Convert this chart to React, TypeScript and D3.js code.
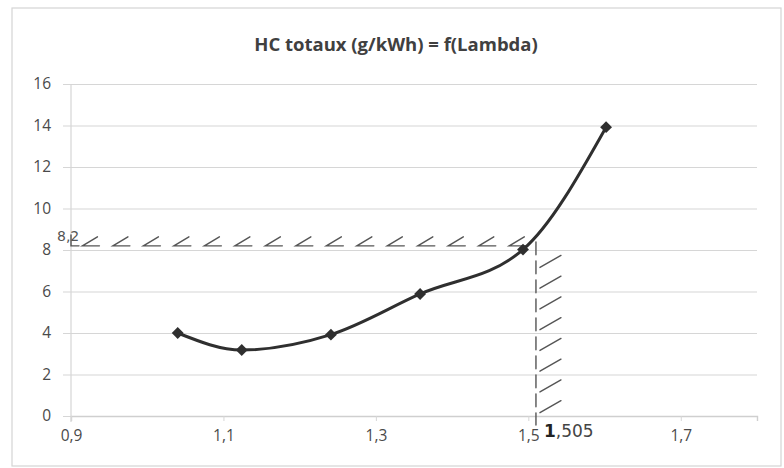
import { useEffect, useRef } from "react";
import * as d3 from "d3";

// HC totaux vs Lambda
const lambda = [1.04, 1.124, 1.241, 1.358, 1.493, 1.602];
const hcTotal = [4.0, 3.18, 3.92, 5.88, 8.02, 13.92];
const xTicks = [0.9, 1.1, 1.3, 1.5, 1.7];
const yTicks = [0, 2, 4, 6, 8, 10, 12, 14, 16];

// handwritten limits drawn on the printout
const hcLimit = 8.2;
const lambdaLimit = 1.51;
const hcLimitLabel = "8,2";
const lambdaLimitLabel = ",505";

const W = 784;
const H = 468;

const App = () => {
  const ref = useRef<SVGSVGElement>(null);

  useEffect(() => {
    const svg = d3.select(ref.current);
    svg.selectAll("*").remove();

    const x = d3.scaleLinear().domain([0.9, 1.8]).range([71, 757]);
    const y = d3.scaleLinear().domain([0, 16]).range([416, 84]);
    const fmt = (v: number) => String(v).replace(".", ",");

    svg.append("rect").attr("width", W).attr("height", H).attr("fill", "#fff");

    // chart frame
    svg
      .append("rect")
      .attr("x", 12)
      .attr("y", 8)
      .attr("width", 769)
      .attr("height", 458)
      .attr("fill", "none")
      .attr("stroke", "#d4d4d4")
      .attr("stroke-width", 1.2);

    svg
      .append("text")
      .attr("x", 396)
      .attr("y", 51)
      .attr("text-anchor", "middle")
      .style("font-family", "Open Sans, sans-serif")
      .style("font-weight", "bold")
      .style("font-size", "18.5px")
      .attr("fill", "#404040")
      .text("HC totaux (g/kWh) = f(Lambda)");

    // y gridlines + labels
    const yAxis = svg
      .append("g")
      .attr("transform", `translate(${x(0.9)},0)`)
      .call(
        d3
          .axisLeft(y)
          .tickValues(yTicks)
          .tickSize(-(x(1.8) - x(0.9)))
          .tickPadding(20)
          .tickFormat((d) => fmt(d as number))
      );
    yAxis.select(".domain").remove();
    yAxis.selectAll(".tick line").attr("stroke", "#d6d6d6").attr("x1", -8).attr("stroke-width", 1.2);
    yAxis
      .selectAll(".tick text")
      .attr("fill", "#4a4a4a")
      .style("font-family", "Open Sans, sans-serif")
      .style("font-size", "15.5px");

    // vertical axis line
    svg
      .append("line")
      .attr("x1", x(0.9))
      .attr("x2", x(0.9))
      .attr("y1", y(16))
      .attr("y2", y(0) + 6)
      .attr("stroke", "#d6d6d6")
      .attr("stroke-width", 1.2);

    // x axis
    const xAxis = svg
      .append("g")
      .attr("transform", `translate(0,${y(0)})`)
      .call(
        d3
          .axisBottom(x)
          .tickValues(xTicks)
          .tickSize(5)
          .tickPadding(9)
          .tickFormat((d) => fmt(d as number))
      );
    xAxis.select(".domain").attr("stroke", "#cfcfcf").attr("stroke-width", 1.4);
    xAxis.selectAll(".tick line").attr("stroke", "#d6d6d6");
    xAxis
      .selectAll(".tick text")
      .attr("fill", "#4a4a4a")
      .style("font-family", "Open Sans, sans-serif")
      .style("font-size", "15.5px");

    // pencil annotations
    const pencil = svg.append("g").attr("stroke", "#555").attr("fill", "none").attr("stroke-width", 1.4).attr("stroke-linecap", "round");
    const y0 = y(hcLimit);
    pencil
      .append("path")
      .attr("d", `M${x(0.9)},${y0 - 11} L${x(0.9)},${y0} L${x(0.9) + 8},${y0}`);
    d3.range(0.915, lambdaLimit - 0.02, 0.04).forEach((v) => {
      const px = x(v);
      pencil
        .append("path")
        .attr("d", `M${px + 15},${y0 - 9} L${px},${y0} L${px + 17},${y0}`);
    });

    const xv = x(lambdaLimit);
    pencil
      .append("line")
      .attr("x1", xv)
      .attr("x2", xv)
      .attr("y1", y0 - 4)
      .attr("y2", y(0) + 9)
      .attr("stroke-dasharray", "13 6");
    d3.range(0.4, hcLimit + 0.2, 1.0).forEach((v) => {
      const py = y(v);
      pencil
        .append("path")
        .attr("d", `M${xv + 4},${py + 5} L${xv + 25},${py - 7}`);
    });

    svg
      .append("text")
      .attr("x", x(0.9) - 14)
      .attr("y", y0 - 5)
      .style("font-family", "DejaVu Sans, sans-serif")
      .style("font-size", "14px")
      .attr("fill", "#555")
      .text(hcLimitLabel);

    const lbl = svg
      .append("text")
      .attr("x", xv + 8)
      .attr("y", y(0) + 21)
      .style("font-family", "DejaVu Sans, sans-serif")
      .style("font-size", "17px")
      .attr("fill", "#444");
    lbl.append("tspan").style("font-weight", "bold").attr("fill", "#222").text("1");
    lbl.append("tspan").text(lambdaLimitLabel);

    // series
    const pts = lambda.map((l, i) => [l, hcTotal[i]] as [number, number]);
    const line = d3
      .line<[number, number]>()
      .x((d) => x(d[0]))
      .y((d) => y(d[1]))
      .curve(d3.curveMonotoneX);

    svg
      .append("path")
      .datum(pts)
      .attr("d", line)
      .attr("fill", "none")
      .attr("stroke", "#2f2f2f")
      .attr("stroke-width", 3);

    svg
      .selectAll(".pt")
      .data(pts)
      .enter()
      .append("path")
      .attr("class", "pt")
      .attr("transform", (d) => `translate(${x(d[0])},${y(d[1])})`)
      .attr("d", d3.symbol(d3.symbolDiamond2, 90)())
      .attr("fill", "#2f2f2f");
  }, []);

  return (
    <svg
      ref={ref}
      width={W}
      height={H}
      style={{ position: "absolute", left: 0, top: 0 }}
    ></svg>
  );
};

export default App;
